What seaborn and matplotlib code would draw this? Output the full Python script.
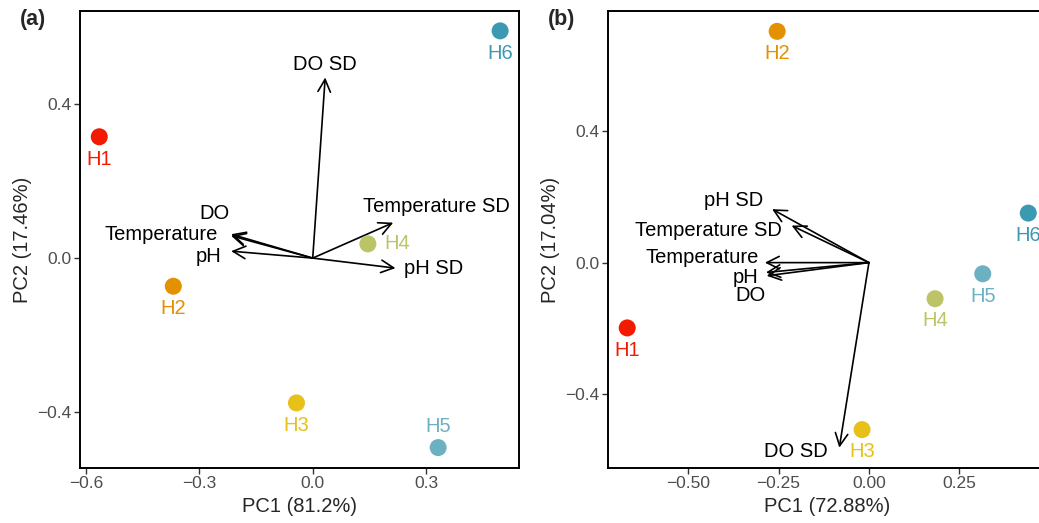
import matplotlib
matplotlib.use("Agg")
import matplotlib.pyplot as plt
import seaborn as sns
import pandas as pd

# ---------------- data ----------------
sites = ["H1", "H2", "H3", "H4", "H5", "H6"]
site_colors = ["#F21A00", "#E49100", "#E7C019", "#BDC468", "#6CB1C1", "#3B9AB2"]

# panel (a)
a_pc1 = [-0.565, -0.369, -0.043, 0.146, 0.332, 0.496]
a_pc2 = [0.315, -0.073, -0.376, 0.037, -0.492, 0.590]
a_vars = ["DO SD", "Temperature SD", "pH SD", "DO", "Temperature", "pH"]
a_load1 = [0.033, 0.213, 0.219, -0.216, -0.216, -0.216]
a_load2 = [0.469, 0.092, -0.026, 0.062, 0.058, 0.018]

# panel (b)
b_pc1 = [-0.669, -0.254, -0.019, 0.183, 0.315, 0.441]
b_pc2 = [-0.199, 0.705, -0.509, -0.110, -0.034, 0.151]
b_vars = ["pH SD", "Temperature SD", "Temperature", "pH", "DO", "DO SD"]
b_load1 = [-0.268, -0.214, -0.288, -0.285, -0.283, -0.082]
b_load2 = [0.163, 0.113, 0.000, -0.030, -0.040, -0.564]

a_xlabel, a_ylabel = "PC1 (81.2%)", "PC2 (17.46%)"
b_xlabel, b_ylabel = "PC1 (72.88%)", "PC2 (17.04%)"

# ---------------- style ----------------
sns.set_style("ticks")
plt.rcParams["font.family"] = ["Liberation Sans", "DejaVu Sans"]

fig = plt.figure(figsize=(10.39, 5.23), dpi=100)
W, H = 1039, 523
ax_a = fig.add_axes([80 / W, (H - 468) / H, 439 / W, 457 / H])
ax_b = fig.add_axes([607.7 / W, (H - 468) / H, 439 / W, 457 / H])

palette = dict(zip(sites, site_colors))


def panel(ax, pc1, pc2, vars_, l1, l2, var_label_pos, site_offsets,
          xlim, ylim, xticks, yticks, xfmt, xlabel, ylabel):
    df = pd.DataFrame({"PC1": pc1, "PC2": pc2, "site": sites})
    sns.scatterplot(data=df, x="PC1", y="PC2", hue="site", palette=palette,
                    s=150, linewidth=0, legend=False, ax=ax, zorder=3)
    for i, s in enumerate(sites):
        dx, dy, ha = site_offsets.get(s, (0, -16, "center"))
        ax.annotate(s, (pc1[i], pc2[i]), xytext=(dx, dy), textcoords="offset points",
                    ha=ha, va="center", color=site_colors[i], fontsize=14.5, zorder=4)
    for v, x, y in zip(vars_, l1, l2):
        ax.annotate("", xy=(x, y), xytext=(0, 0),
                    arrowprops=dict(arrowstyle="->,head_length=0.6,head_width=0.3",
                                    lw=1.2, color="black", shrinkA=0, shrinkB=0,
                                    mutation_scale=15), zorder=2)
        lx, ly, ha = var_label_pos[v]
        ax.text(lx, ly, v, ha=ha, va="center", fontsize=14.5, color="black", zorder=4)
    ax.set_xlim(*xlim)
    ax.set_ylim(*ylim)
    ax.set_xticks(xticks)
    ax.set_xticklabels([xfmt.format(t).replace("-", "\u2212") for t in xticks])
    ax.set_yticks(yticks)
    ax.set_yticklabels([("{:.1f}".format(t)).replace("-", "\u2212") for t in yticks])
    ax.tick_params(axis="both", labelsize=12.5, labelcolor="#4D4D4D", color="#333333",
                   length=4, width=1, direction="out", pad=2)
    for sp in ax.spines.values():
        sp.set_visible(True)
        sp.set_linewidth(1.4)
        sp.set_color("black")
    ax.set_xlabel(xlabel, fontsize=14.5, labelpad=4)
    ax.set_ylabel(ylabel, fontsize=14.5, labelpad=4)
    ax.grid(False)


panel(ax_a, a_pc1, a_pc2, a_vars, a_load1, a_load2,
      {"DO SD": (0.033, 0.503, "center"),
       "Temperature SD": (0.328, 0.133, "center"),
       "pH SD": (0.242, -0.027, "left"),
       "DO": (-0.219, 0.116, "right"),
       "Temperature": (-0.250, 0.060, "right"),
       "pH": (-0.241, 0.004, "right")},
      {"H4": (12, 0, "left"), "H5": (0, 15, "center")},
      (-0.616, 0.546), (-0.545, 0.6416),
      [-0.6, -0.3, 0.0, 0.3], [-0.4, 0.0, 0.4], "{:.1f}",
      a_xlabel, a_ylabel)

panel(ax_b, b_pc1, b_pc2, b_vars, b_load1, b_load2,
      {"pH SD": (-0.293, 0.190, "right"),
       "Temperature SD": (-0.240, 0.098, "right"),
       "Temperature": (-0.304, 0.015, "right"),
       "pH": (-0.306, -0.044, "right"),
       "DO": (-0.285, -0.100, "right"),
       "DO SD": (-0.113, -0.577, "right")},
      {},
      (-0.723, 0.492), (-0.626, 0.767),
      [-0.50, -0.25, 0.0, 0.25], [-0.4, 0.0, 0.4], "{:.2f}",
      b_xlabel, b_ylabel)

fig.text(20 / W, 1 - 20 / H, "(a)", fontsize=15.5, fontweight="bold", ha="left", va="center")
fig.text(548 / W, 1 - 20 / H, "(b)", fontsize=15.5, fontweight="bold", ha="left", va="center")

fig.savefig("out.png", dpi=100)
